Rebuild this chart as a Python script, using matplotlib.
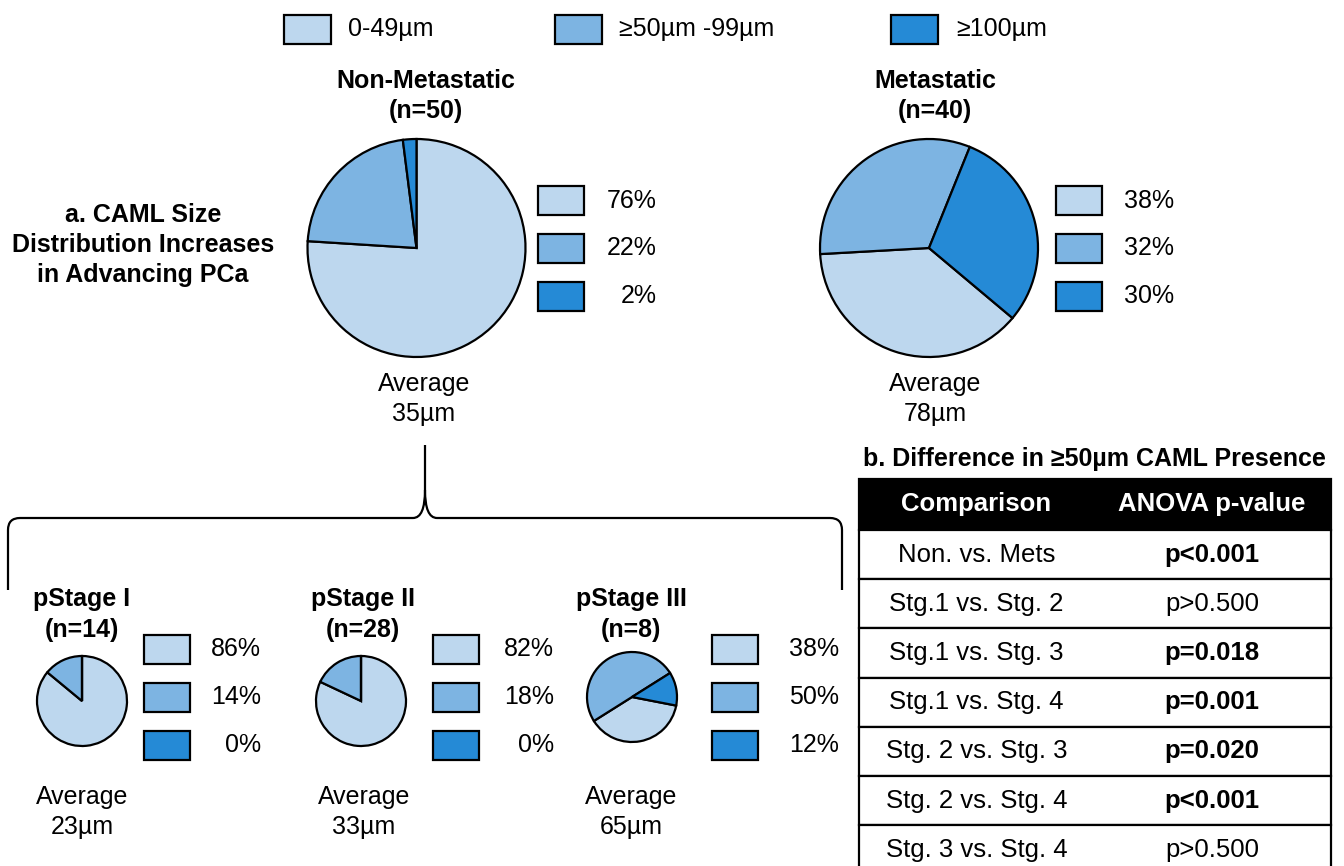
import matplotlib
matplotlib.use("Agg")
import matplotlib.pyplot as plt
from matplotlib.patches import Rectangle, PathPatch
from matplotlib.path import Path

plt.rcParams["font.family"] = ["Liberation Sans", "DejaVu Sans"]

W, H = 1344, 866

# ---- data ----
size_bins = ["0-49µm", "≥50µm -99µm", "≥100µm"]
bin_colors = ["#BDD7EE", "#7DB4E2", "#258AD6"]

group_names = ["Non-Metastatic", "Metastatic"]
group_n = [50, 40]
group_pct = [[76, 22, 2], [38, 32, 30]]
group_avg = [35, 78]

stage_names = ["pStage I", "pStage II", "pStage III"]
stage_n = [14, 28, 8]
stage_pct = [[86, 14, 0], [82, 18, 0], [38, 50, 12]]
stage_avg = [23, 33, 65]

comparisons = ["Non. vs. Mets", "Stg.1 vs. Stg. 2", "Stg.1 vs. Stg. 3", "Stg.1 vs. Stg. 4",
               "Stg. 2 vs. Stg. 3", "Stg. 2 vs. Stg. 4", "Stg. 3 vs. Stg. 4"]
p_values = ["p<0.001", "p>0.500", "p=0.018", "p=0.001", "p=0.020", "p<0.001", "p>0.500"]
p_bold = [True, False, True, True, True, True, False]

FS = 18
FS_TAB = 18.5


def Y(y):
    """image row -> data y (y up)"""
    return H - y


fig = plt.figure(figsize=(W / 100, H / 100), dpi=100)
ax = fig.add_axes([0, 0, 1, 1])


def pie_block(cx, cy, r, pct, start, sq_x, pct_x, rows, title, n, title_x, title_ys, avg, avg_x, avg_ys):
    ax.pie(pct, colors=bin_colors, startangle=start, counterclock=False,
           center=(cx, Y(cy)), radius=r, frame=True,
           wedgeprops=dict(edgecolor="black", linewidth=1.6))
    for ry, p, c in zip(rows, pct, bin_colors):
        ax.add_patch(Rectangle((sq_x, Y(ry + 14.5)), 46, 29, facecolor=c,
                               edgecolor="black", linewidth=1.6))
        ax.text(pct_x, Y(ry), f"{p}%", ha="right", va="center", fontsize=FS)
    ax.text(title_x, Y(title_ys[0]), title, ha="center", va="center",
            fontsize=FS, fontweight="bold")
    ax.text(title_x, Y(title_ys[1]), f"(n={n})", ha="center", va="center",
            fontsize=FS, fontweight="bold")
    ax.text(avg_x, Y(avg_ys[0]), "Average", ha="center", va="center", fontsize=FS)
    ax.text(avg_x, Y(avg_ys[1]), f"{avg}µm", ha="center", va="center", fontsize=FS)


# top pies
top_layout = [
    dict(cx=416.5, cy=248, start=90, sq_x=538, pct_x=657, title_x=426, avg_x=424),
    dict(cx=929, cy=248, start=-40, sq_x=1056, pct_x=1174, title_x=935, avg_x=935),
]
for lay, name, n, pct, avg in zip(top_layout, group_names, group_n, group_pct, group_avg):
    pie_block(lay["cx"], lay["cy"], 109, pct, lay["start"], lay["sq_x"], lay["pct_x"],
              [200.5, 248, 296], name, n, lay["title_x"], [81, 111],
              avg, lay["avg_x"], [384, 414])

# stage pies
stage_layout = [
    dict(cx=82, cy=701, start=90, sq_x=143.5, pct_x=261, title_x=82, avg_x=82),
    dict(cx=361, cy=701, start=90, sq_x=433, pct_x=554, title_x=363, avg_x=364),
    dict(cx=632, cy=697, start=-11, sq_x=712, pct_x=839, title_x=631, avg_x=631),
]
for lay, name, n, pct, avg in zip(stage_layout, stage_names, stage_n, stage_pct, stage_avg):
    pie_block(lay["cx"], lay["cy"], 45, pct, lay["start"], lay["sq_x"], lay["pct_x"],
              [649, 697, 745], name, n, lay["title_x"], [599, 630],
              avg, lay["avg_x"], [797, 827])

# top legend
for sx, tx, lab, c in zip([284, 555, 891], [348, 619, 956], size_bins, bin_colors):
    ax.add_patch(Rectangle((sx, Y(43.5)), 47, 29, facecolor=c, edgecolor="black", linewidth=1.6))
    ax.text(tx, Y(29), lab, ha="left", va="center", fontsize=FS)

# panel a label
for yy, line in zip([215, 245, 275], ["a. CAML Size", "Distribution Increases", "in Advancing PCa"]):
    ax.text(143, Y(yy), line, ha="center", va="center", fontsize=FS, fontweight="bold")

# brace under Non-Metastatic
verts = [(8, 590), (8, 530), (8, 518), (20, 518), (413, 518), (425, 518), (425, 490), (425, 445),
         (425, 490), (425, 518), (437, 518), (830, 518), (842, 518), (842, 530), (842, 590)]
codes = [Path.MOVETO, Path.LINETO, Path.CURVE3, Path.CURVE3, Path.LINETO, Path.CURVE3, Path.CURVE3,
         Path.LINETO, Path.MOVETO, Path.CURVE3, Path.CURVE3, Path.LINETO, Path.CURVE3, Path.CURVE3,
         Path.LINETO]
ax.add_patch(PathPatch(Path([(x, Y(y)) for x, y in verts], codes), facecolor="none",
                       edgecolor="black", linewidth=1.6))

# table b
tx0, tx1 = 858.5, 1330.5
head_top, head_h, row_h = 478.5, 51.5, 49.2
col_c = [976.5, 1212]
ax.text((tx0 + tx1) / 2, Y(459), "b. Difference in ≥50µm CAML Presence", ha="center",
        va="center", fontsize=FS, fontweight="bold")
ax.add_patch(Rectangle((tx0, Y(head_top + head_h)), tx1 - tx0, head_h, facecolor="black",
                       edgecolor="black", linewidth=1.6))
ax.text(col_c[0], Y(head_top + head_h / 2), "Comparison", ha="center", va="center",
        fontsize=FS_TAB, fontweight="bold", color="white")
ax.text(col_c[1], Y(head_top + head_h / 2), "ANOVA p-value", ha="center", va="center",
        fontsize=FS_TAB, fontweight="bold", color="white")
body_top = head_top + head_h
for i, (comp, pv, b) in enumerate(zip(comparisons, p_values, p_bold)):
    top = body_top + i * row_h
    ax.add_patch(Rectangle((tx0, Y(top + row_h)), tx1 - tx0, row_h, facecolor="white",
                           edgecolor="black", linewidth=1.6))
    ax.text(col_c[0], Y(top + row_h / 2), comp, ha="center", va="center", fontsize=FS_TAB)
    ax.text(col_c[1], Y(top + row_h / 2), pv, ha="center", va="center", fontsize=FS_TAB,
            fontweight="bold" if b else "normal")

ax.set_xlim(0, W)
ax.set_ylim(0, H)
ax.set_aspect("auto")
ax.axis("off")

fig.savefig("out.png", dpi=100)
